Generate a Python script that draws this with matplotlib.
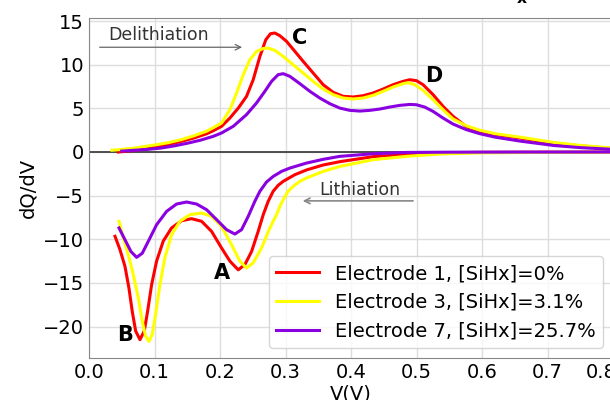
import numpy as np
import matplotlib
matplotlib.use("Agg")
import matplotlib.pyplot as plt
from matplotlib.transforms import ScaledTranslation

# delithiation (upper) curves
v_del_e1 = [0.045, 0.06, 0.08, 0.10, 0.12, 0.14, 0.16, 0.18, 0.19, 0.2024, 0.2151, 0.2279, 0.2405,
            0.2507, 0.2609, 0.270, 0.2771, 0.2837, 0.2914, 0.3015, 0.3143, 0.327, 0.3422, 0.3575,
            0.3727, 0.388, 0.4033, 0.4185, 0.4338, 0.449, 0.4643, 0.4795, 0.4897, 0.4999, 0.51,
            0.5253, 0.5405, 0.5558, 0.5761, 0.5964, 0.62, 0.658, 0.709, 0.75, 0.80]
q_del_e1 = [0.0, 0.1, 0.3, 0.6, 0.85, 1.2, 1.6, 2.1, 2.45, 2.94, 3.89, 5.03, 6.37,
            8.28, 10.95, 12.87, 13.55, 13.63, 13.32, 12.68, 11.53, 10.38, 9.05, 7.71,
            6.84, 6.38, 6.30, 6.45, 6.76, 7.21, 7.71, 8.09, 8.28, 8.17, 7.71,
            6.57, 5.23, 4.09, 2.9, 2.4, 2.0, 1.6, 1.0, 0.7, 0.4]

v_del_e3 = [0.035, 0.05, 0.07, 0.10, 0.12, 0.14, 0.16, 0.18, 0.19, 0.2024, 0.2151, 0.2253, 0.2355,
            0.2456, 0.2558, 0.266, 0.2736, 0.2837, 0.2965, 0.3117, 0.327, 0.3422, 0.3575, 0.3727,
            0.388, 0.4033, 0.4185, 0.4338, 0.449, 0.4643, 0.4795, 0.4872, 0.4974, 0.51, 0.5253,
            0.5405, 0.5558, 0.5761, 0.5964, 0.62, 0.658, 0.709, 0.75, 0.80]
q_del_e3 = [0.2, 0.3, 0.45, 0.8, 1.05, 1.4, 1.85, 2.4, 2.8, 3.32, 4.84, 6.75, 8.85,
            10.57, 11.52, 11.86, 11.90, 11.64, 10.95, 10.0, 9.05, 8.09, 7.21, 6.57,
            6.18, 6.07, 6.18, 6.49, 6.95, 7.44, 7.83, 7.94, 7.71, 7.06, 5.99,
            4.84, 3.78, 3.0, 2.5, 2.1, 1.7, 1.1, 0.75, 0.45]

v_del_e7 = [0.05, 0.07, 0.09, 0.11, 0.13, 0.15, 0.17, 0.19, 0.2024, 0.2202, 0.2405, 0.2558, 0.2685,
            0.2787, 0.2888, 0.2965, 0.3066, 0.3219, 0.3372, 0.3524, 0.3677, 0.3829, 0.3982,
            0.4135, 0.4287, 0.4439, 0.4592, 0.4744, 0.4897, 0.4999, 0.5125, 0.5253, 0.5405,
            0.5558, 0.5761, 0.5964, 0.62, 0.658, 0.709, 0.75, 0.80]
q_del_e7 = [0.1, 0.2, 0.3, 0.45, 0.7, 1.0, 1.35, 1.8, 2.18, 2.94, 4.28, 5.62, 6.95,
            8.09, 8.86, 8.97, 8.67, 7.83, 6.95, 6.18, 5.53, 5.03, 4.77,
            4.69, 4.77, 4.92, 5.15, 5.34, 5.45, 5.41, 5.15, 4.65, 3.89,
            3.20, 2.56, 2.1, 1.7, 1.25, 0.75, 0.5, 0.3]

# lithiation (lower) curves
v_li_e1 = [0.0397, 0.0473, 0.0549, 0.061, 0.066, 0.0712, 0.0778, 0.0844, 0.0895, 0.0956, 0.1032,
           0.1134, 0.1261, 0.1414, 0.1566, 0.1719, 0.1871, 0.2024, 0.2151, 0.2278, 0.238,
           0.2482, 0.2583, 0.266, 0.2736, 0.2812, 0.2888, 0.2965, 0.3143, 0.332, 0.3575,
           0.383, 0.434, 0.485, 0.536, 0.60, 0.70, 0.80]
q_li_e1 = [-9.66, -11.19, -13.1, -15.6, -18.25, -20.5, -21.5, -20.5, -18.25, -15.2, -12.5,
           -10.2, -8.7, -7.87, -7.64, -7.94, -9.09, -11.0, -12.5, -13.5, -12.9,
           -11.4, -9.09, -7.18, -5.65, -4.5, -3.82, -3.36, -2.6, -2.06, -1.49,
           -1.11, -0.53, -0.27, -0.08, -0.04, -0.02, 0.0]

v_li_e3 = [0.0458, 0.0524, 0.06, 0.0676, 0.0753, 0.0813, 0.0864, 0.0915, 0.0966, 0.1017, 0.1083,
           0.1159, 0.1261, 0.1388, 0.1541, 0.1719, 0.1871, 0.2024, 0.2176, 0.2303, 0.2405,
           0.2507, 0.2634, 0.2761, 0.2863, 0.2914, 0.2965, 0.304, 0.3118, 0.3219, 0.332,
           0.3575, 0.383, 0.434, 0.485, 0.536, 0.60, 0.70, 0.80]
q_li_e3 = [-7.94, -9.85, -11.76, -14.05, -16.7, -19.4, -21.1, -21.7, -20.9, -18.6, -15.2,
           -12.1, -9.47, -7.94, -7.18, -6.99, -7.37, -8.52, -10.62, -12.5, -13.3,
           -12.7, -11.0, -8.7, -7.18, -6.23, -5.46, -4.5, -3.93, -3.36, -2.98,
           -2.22, -1.65, -0.88, -0.5, -0.23, -0.1, -0.04, -0.02]

v_li_e7 = [0.0458, 0.0549, 0.064, 0.0727, 0.0813, 0.0905, 0.1032, 0.1185, 0.1337, 0.149, 0.1642,
           0.1795, 0.1948, 0.21, 0.2227, 0.2329, 0.2431, 0.2532, 0.2609, 0.271, 0.2812,
           0.294, 0.3067, 0.332, 0.3575, 0.383, 0.434, 0.485, 0.55, 0.65, 0.80]
q_li_e7 = [-8.7, -10.05, -11.4, -12.07, -11.6, -10.24, -8.33, -6.8, -5.96, -5.73, -5.96,
           -6.61, -7.75, -8.9, -9.4, -8.9, -7.37, -5.65, -4.5, -3.44, -2.8,
           -2.22, -1.84, -1.27, -0.84, -0.5, -0.2, -0.05, -0.02, -0.01, 0.0]

labels = ["Electrode 1, [SiHx]=0%", "Electrode 3, [SiHx]=3.1%", "Electrode 7, [SiHx]=25.7%"]
colors = ["#ff0000", "#ffff00", "#8a00e0"]

peak_names = ["A", "B", "C", "D"]
peak_pos = [(0.203, -13.9), (0.055, -21.0), (0.322, 13.1), (0.527, 8.7)]

fig = plt.figure(figsize=(6.1, 4.0), dpi=100)
ax = fig.add_axes([89 / 610, 42 / 400, 524 / 610, 340 / 400])

dels = [(v_del_e1, q_del_e1), (v_del_e3, q_del_e3), (v_del_e7, q_del_e7)]
lis = [(v_li_e1, q_li_e1), (v_li_e3, q_li_e3), (v_li_e7, q_li_e7)]
for (vd, qd), (vl, ql), c, lab in zip(dels, lis, colors, labels):
    ax.plot(vd, qd, color=c, lw=2.2, label=lab, solid_joinstyle="round")
    ax.plot(vl, ql, color=c, lw=2.2, solid_joinstyle="round")

ax.axhline(0, color="#333333", lw=1.2, zorder=1)

ax.set_xlim(0, 0.8)
ax.set_ylim(-23.6, 15.35)
ax.set_xticks(np.arange(0, 0.81, 0.1))
ax.set_yticks([-20, -15, -10, -5, 0, 5, 10, 15])
ax.grid(True, color="#dddddd", lw=1)
ax.set_axisbelow(True)
ax.tick_params(length=0, labelsize=14)
for s in ax.spines.values():
    s.set_color("#888888")

# last x label sits a bit left in the original
last = ax.xaxis.get_major_ticks()[-1].label1
last.set_transform(last.get_transform() + ScaledTranslation(-0.12, 0, fig.dpi_scale_trans))

ax.set_xlabel("V(V)", fontsize=14, labelpad=2)
ax.set_ylabel("dQ/dV", fontsize=14)

# arrows
ax.annotate("", xy=(0.238, 12.0), xytext=(0.012, 12.0),
            arrowprops=dict(arrowstyle="->", color="#666666", lw=0.9))
ax.text(0.03, 13.4, "Delithiation", fontsize=12.5, color="#333333", va="center")
ax.annotate("", xy=(0.322, -5.6), xytext=(0.499, -5.6),
            arrowprops=dict(arrowstyle="->", color="#888888", lw=1.2))
ax.text(0.352, -4.35, "Lithiation", fontsize=12.5, color="#333333", va="center")

for name, (x, y) in zip(peak_names, peak_pos):
    ax.text(x, y, name, fontsize=15, fontweight="bold", ha="center", va="center")

ax.legend(loc="lower right", fontsize=14, handlelength=2.2)

fig.text(528 / 610, 1.0, r"$\mathbf{SiH_x}$", fontsize=16, ha="right", va="baseline")

fig.savefig("out.png", dpi=100)
